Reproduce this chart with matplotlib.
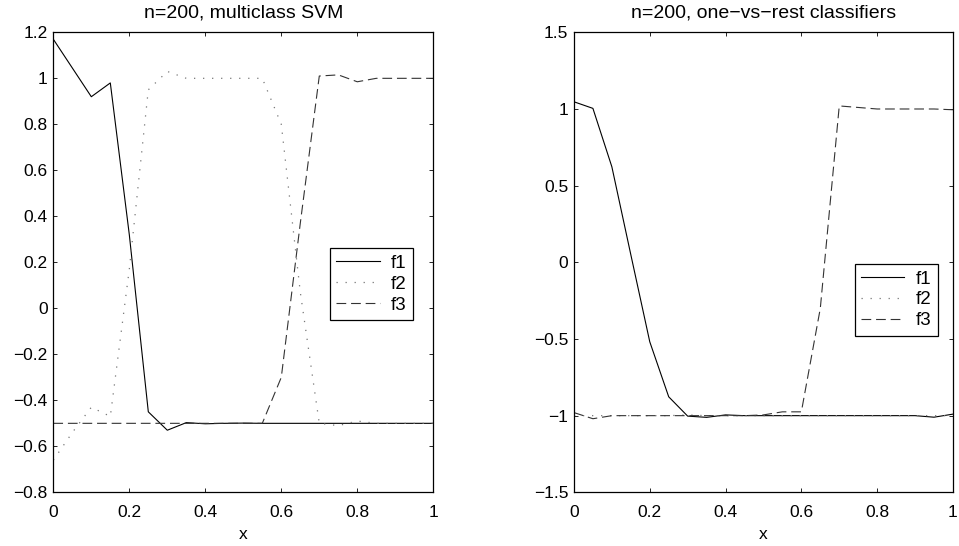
import matplotlib
matplotlib.use('Agg')
import matplotlib.pyplot as plt

plt.rcParams['font.family'] = ['Liberation Sans', 'DejaVu Sans']
plt.rcParams['font.size'] = 12.5
plt.rcParams['lines.scale_dashes'] = False

x = [0.0, 0.05, 0.1, 0.15, 0.2, 0.25, 0.3, 0.35, 0.4, 0.45, 0.5,
     0.55, 0.6, 0.65, 0.7, 0.75, 0.8, 0.85, 0.9, 0.95, 1.0]

# multiclass SVM
svm_f1 = [1.17, 1.045, 0.92, 0.98, 0.32, -0.45, -0.53, -0.497, -0.502, -0.5, -0.499,
          -0.5, -0.5, -0.5, -0.5, -0.5, -0.5, -0.5, -0.5, -0.5, -0.5]
svm_f2 = [-0.66, -0.54, -0.43, -0.47, 0.17, 0.95, 1.03, 1.0, 1.0, 1.0, 1.0,
          1.0, 0.8, 0.07, -0.5, -0.51, -0.49, -0.5, -0.5, -0.5, -0.5]
svm_f3 = [-0.5, -0.5, -0.5, -0.5, -0.5, -0.5, -0.5, -0.5, -0.5, -0.5, -0.5,
          -0.5, -0.3, 0.37, 1.01, 1.015, 0.985, 1.0, 1.0, 1.0, 1.0]

# one-vs-rest classifiers
ovr_f1 = [1.047, 1.004, 0.623, 0.05, -0.518, -0.877, -1.003, -1.011, -0.995, -1.0, -1.0,
          -1.0, -1.0, -1.0, -1.0, -1.0, -1.0, -1.0, -1.0, -1.01, -0.99]
ovr_f2 = [-1.0, -1.0, -1.0, -1.0, -1.0, -1.0, -0.995, -1.0, -1.0, -1.0, -1.0,
          -1.0, -1.0, -1.0, -1.0, -1.0, -1.0, -1.0, -1.0, -1.0, -1.0]
ovr_f3 = [-0.98, -1.02, -1.0, -1.0, -1.0, -1.0, -1.0, -1.0, -1.0, -1.0, -0.995,
          -0.975, -0.975, -0.3, 1.02, 1.01, 1.0, 1.0, 1.0, 1.0, 0.995]

labels = ['f1', 'f2', 'f3']

fig = plt.figure(figsize=(9.59, 5.46), dpi=100)
ax1 = fig.add_axes([0.0556, 0.0983, 0.3962, 0.8425])
ax2 = fig.add_axes([0.5985, 0.0983, 0.3952, 0.8425])

panels = [
    (ax1, [svm_f1, svm_f2, svm_f3], 'n=200, multiclass SVM', (-0.8, 1.2),
     [-0.8, -0.6, -0.4, -0.2, 0, 0.2, 0.4, 0.6, 0.8, 1, 1.2], (0.728, 0.5304)),
    (ax2, [ovr_f1, ovr_f2, ovr_f3], 'n=200, one\u2212vs\u2212rest classifiers', (-1.5, 1.5),
     [-1.5, -1, -0.5, 0, 0.5, 1, 1.5], (0.741, 0.4965)),
]

for ax, series, title, ylim, yticks, leg_pos in panels:
    ax.plot(x, series[0], color='black', lw=0.8, label=labels[0])
    ax.plot(x, series[1], color='#777777', lw=0.9, ls=(0, (0.9, 5.6)), label=labels[1])
    ax.plot(x, series[2], color='#333333', lw=0.8, ls=(0, (7, 3.5)), label=labels[2])
    ax.set_xlim(0, 1)
    ax.set_ylim(*ylim)
    ax.set_xticks([0, 0.2, 0.4, 0.6, 0.8, 1])
    ax.set_xticklabels(['0', '0.2', '0.4', '0.6', '0.8', '1'])
    ax.set_yticks(yticks)
    ax.set_yticklabels([('\u2212' + f'{abs(v):g}') if v < 0 else f'{v:g}' for v in yticks])
    ax.tick_params(direction='in', length=3, width=0.6, top=True, right=True, pad=4)
    ax.tick_params(axis='x', pad=9)
    for s in ax.spines.values():
        s.set_linewidth(0.9)
    ax.set_title(title, fontsize=14, pad=11)
    ax.set_xlabel('x', labelpad=5)
    leg = ax.legend(loc='upper left', bbox_to_anchor=leg_pos, fancybox=False,
                    edgecolor='black', framealpha=1, fontsize=13.5, handlelength=2.3,
                    handletextpad=0.6, labelspacing=0.2, borderpad=0.35,
                    borderaxespad=0)
    leg.get_frame().set_linewidth(0.9)

fig.savefig('out.png', dpi=100)
